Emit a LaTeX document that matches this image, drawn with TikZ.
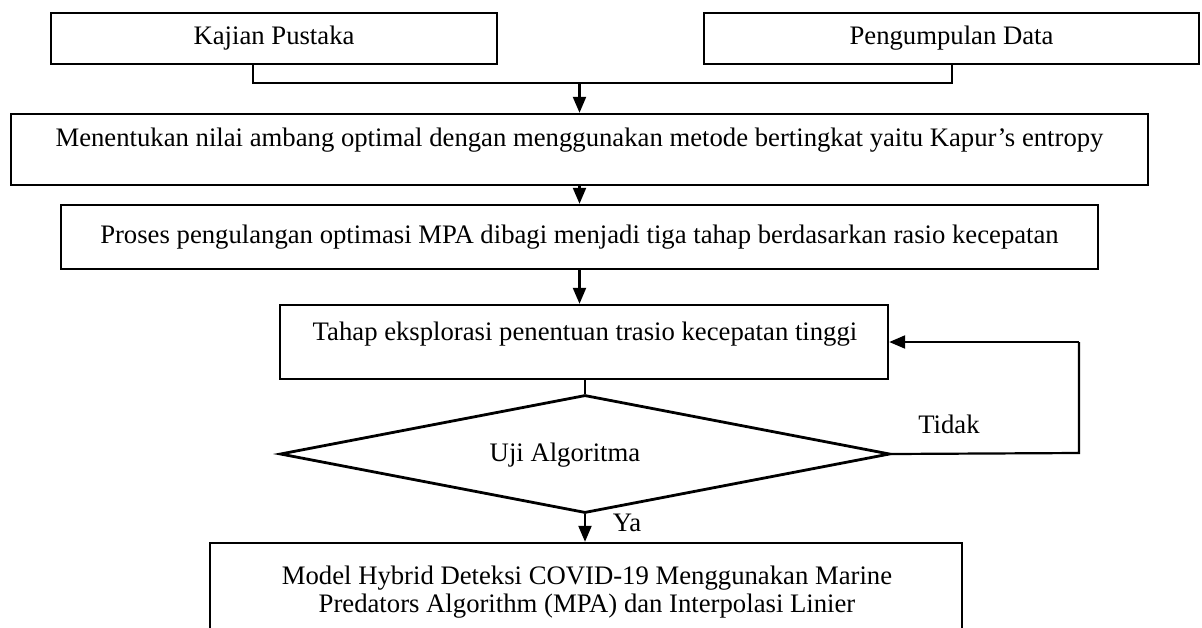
\documentclass[tikz,border=0pt]{standalone}
\usepackage{fontspec}
\setmainfont{Liberation Serif}
\usetikzlibrary{arrows.meta,shapes.geometric}
\begin{document}
\begin{tikzpicture}[x=1pt,y=-1pt,
  box/.style={draw, line width=2.4pt, inner sep=0pt, font=\fontsize{26.7}{28}\selectfont},
  txt/.style={inner sep=0pt, font=\fontsize{26.7}{28}\selectfont},
  conn/.style={line width=2.2pt},
  arr/.style={conn, -{Triangle[length=16pt,width=13pt]}}]
\useasboundingbox (0,0) rectangle (1202,627);
\clip (0,0) rectangle (1202,627);
% boxes
\node[box, minimum width=446pt, minimum height=51pt] (k) at (274,38.5) {Kajian Pustaka};
\node[box, minimum width=495pt, minimum height=51pt] (p) at (951.5,38.5) {Pengumpulan Data};
\node[box, minimum width=1137pt, minimum height=71pt] (m) at (579.5,149.5) {};
\node[txt] (mt) at (579.5,140) {Menentukan nilai ambang optimal dengan menggunakan metode bertingkat yaitu Kapur’s entropy};
\node[box, minimum width=1037pt, minimum height=64pt] (pr) at (579.5,237) {Proses pengulangan optimasi MPA dibagi menjadi tiga tahap berdasarkan rasio kecepatan};
\node[box, minimum width=608pt, minimum height=74pt] (t) at (584,342) {};
\node[txt] (tt) at (585,334) {Tahap eksplorasi penentuan trasio kecepatan tinggi};
\node[draw, line width=2.8pt, shape=diamond, inner sep=0pt, minimum width=610pt, minimum height=118pt] (d) at (585,454) {};
\node[txt] (dt) at (565,455) {Uji Algoritma};
\node[box, minimum width=752pt, minimum height=157pt] (b) at (586,621.5) {};
\node[txt, align=center] (bt) at (587,592) {Model Hybrid Deteksi COVID-19 Menggunakan Marine\\Predators Algorithm (MPA) dan Interpolasi Linier};
% labels
\node[txt] (tl) at (949,424) {Tidak};
\node[txt] (yl) at (627,523) {Ya};
% connectors
\coordinate (kj) at (253,83);
\coordinate (pj) at (952,83);
\coordinate (mj) at (579.5,83);
\coordinate (lb) at (1079,453);
\draw[conn] (k.south -| kj) -- (kj) -- (pj) -- (p.south -| pj);
\draw[arr] (mj) -- (m.north);
\draw[arr] (m.south) -- (pr.north);
\draw[arr] (pr.south) -- (pr.south |- t.north);
\draw[conn] (t.south -| d.north) -- (d.north);
\draw[arr] (d.south) -- (d.south |- b.north);
\draw[conn] (d.east) -- (lb) -- (lb |- t.east);
\draw[arr] (lb |- t.east) -- (t.east);
\end{tikzpicture}
\end{document}
